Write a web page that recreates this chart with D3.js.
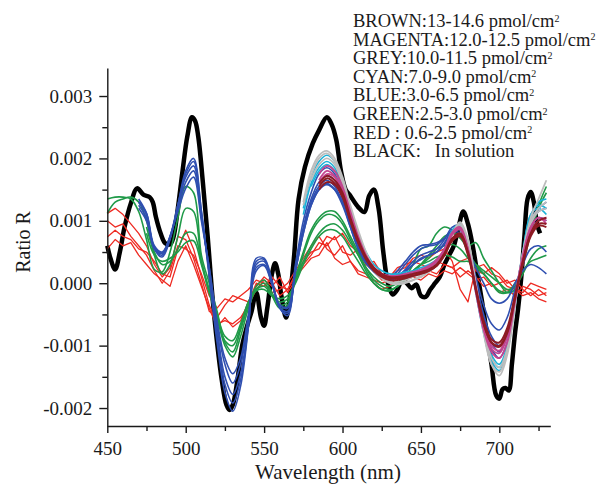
<!DOCTYPE html>
<html>
<head>
<meta charset="utf-8">
<script src="https://cdn.jsdelivr.net/npm/d3@7"></script>
<style>
  body { margin: 0; background: #fff; }
  svg text { font-family: "Liberation Serif", "Times New Roman", serif; fill: #1a1a1a; white-space: pre; }
</style>
</head>
<body>
<div id="chart"></div>
<script>
// ratio values are stored in units of 1e-3

// common wavelength grid (nm); every coloured series ends at 730
const wave = [
  450, 455, 460, 465, 470, 475, 480, 485, 490, 495,
  500, 505, 510, 515, 520, 525, 530, 535, 540, 545,
  550, 555, 560, 565, 570, 575, 580, 585, 590, 595,
  600, 605, 610, 615, 620, 625, 630, 635, 640, 645,
  650, 655, 660, 665, 670, 675, 680, 685, 690, 695,
  700, 705, 710, 715, 720, 725, 730
];

// black: in solution (own, finer grid)
const blackWave = [
  450, 452, 455, 458, 461, 465, 469, 473, 477, 479,
  481, 484, 487, 490, 492, 495, 498, 501, 504, 506,
  508, 511, 514, 517, 520, 523, 526, 528, 530, 533,
  536, 539, 542, 545, 548, 550, 552, 555, 557, 559,
  561, 564, 566, 569, 572, 576, 581, 585, 590, 593,
  596, 599, 602, 605, 610, 614, 617, 620, 623, 626,
  629, 632, 635, 638, 641, 644, 647, 650, 653, 656,
  659, 662, 665, 668, 671, 674, 677, 680, 683, 686,
  689, 692, 695, 698, 700, 702, 704, 706, 708, 710,
  712, 714, 716, 718, 720, 722, 724, 726
];
const blackR = [
  0.6, 0.4, 0.22, 0.5, 0.9, 1.28, 1.52, 1.42, 1.38, 1.3,
  1.06, 0.8, 0.64, 0.62, 0.72, 1.2, 1.8, 2.35, 2.66, 2.6,
  2.35, 1.6, 0.75, -0.2, -0.95, -1.55, -1.95, -2.03, -1.95, -1.55,
  -1.0, -0.7, -0.45, -0.15, -0.55, -0.68, -0.4, 0.15, 0.32, 0.15,
  -0.2, -0.55, -0.3, 0.4, 1.35, 1.86, 2.24, 2.45, 2.66, 2.55,
  2.3, 1.8, 1.5, 1.4, 1.22, 1.14, 1.4, 1.5, 1.2, 0.5,
  0.0, -0.18, -0.1, 0.05, 0.0, -0.08, -0.02, -0.2, -0.22, -0.1,
  0.0, 0.1, 0.3, 0.45, 0.6, 0.9, 1.15, 0.95, 0.6, 0.15,
  -0.3, -0.8, -1.3, -1.8, -1.85, -1.7, -1.68, -1.72, -1.3, -0.8,
  -0.4, 0.1, 0.75, 1.35, 1.46, 1.3, 0.95, 0.8
];

// red: 0.6-2.5 pmol/cm2 (450-730)
const red1 = [
  1.12, 1.2, 1.1, 0.95, 0.8, 0.6, 0.3, 0.1, 0.25, 0.75,
  0.7, 0.4, 0.0, -0.45, -0.55, -0.35, -0.2, -0.25, -0.3, 0.0,
  -0.05, 0.1, -0.05, -0.1, 0.15, 0.35, 0.5, 0.55, 0.75, 0.7,
  0.8, 0.6, 0.5, 0.3, 0.35, 0.15, 0.05, 0.2, 0.25, 0.4,
  0.45, 0.4, 0.5, 0.55, 0.35, -0.1, -0.3, 0.25, 0.3, 0.15,
  0.1, -0.05, -0.1, -0.15, 0.0, -0.05, -0.1
];
const red2 = [
  0.74, 0.85, 0.75, 0.7, 0.55, 0.5, 0.35, 0.15, 0.1, 0.55,
  0.85, 0.55, 0.1, -0.35, -0.65, -0.6, -0.65, -0.55, -0.35, -0.1,
  0.05, -0.05, 0.1, -0.15, 0.05, 0.3, 0.45, 0.65, 0.6, 0.75,
  0.5, 0.45, 0.55, 0.3, 0.2, 0.05, 0.1, 0.25, 0.3, 0.35,
  0.3, 0.25, 0.35, 0.3, 0.25, 0.35, 0.4, 0.2, 0.15, 0.25,
  0.15, 0.0, 0.05, -0.1, -0.2, -0.1, -0.2
];
const red3 = [
  1.0, 0.9, 0.95, 0.75, 0.6, 0.45, 0.2, 0.0, 0.2, 0.6,
  0.55, 0.45, 0.15, -0.2, -0.4, -0.25, -0.3, -0.2, -0.1, 0.05,
  0.0, -0.15, -0.1, 0.0, 0.2, 0.4, 0.6, 0.75, 0.55, 0.45,
  0.6, 0.35, 0.2, 0.15, 0.0, -0.1, -0.05, 0.1, 0.15, 0.2,
  0.1, 0.2, 0.15, 0.3, 0.25, 0.1, 0.2, 0.1, -0.05, 0.0,
  -0.15, -0.1, -0.2, -0.05, -0.1, -0.2, -0.15
];
const red4 = [
  0.55, 0.7, 0.6, 0.65, 0.45, 0.3, 0.15, 0.05, -0.05, 0.35,
  0.6, 0.3, -0.05, -0.4, -0.7, -0.55, -0.7, -0.6, -0.3, -0.05,
  0.1, 0.0, -0.2, -0.1, 0.1, 0.25, 0.4, 0.45, 0.65, 0.4,
  0.3, 0.35, 0.15, 0.1, 0.05, 0.0, 0.05, 0.1, 0.05, 0.1,
  0.05, 0.15, 0.1, 0.2, 0.15, 0.25, 0.15, 0.05, 0.1, -0.05,
  0.0, 0.05, -0.1, -0.2, -0.15, -0.25, -0.3
];

// green: 2.5-3.0 pmol/cm2
const green1 = [
  1.35, 1.38, 1.38, 1.35, 1.15, 0.7, 0.22, 0.18, 0.5, 1.05,
  1.55, 1.45, 0.45, 0.0, -0.45, -0.95, -1.1, -0.75, -0.35, -0.05,
  0.05, -0.15, -0.35, -0.3, 0.1, 0.5, 0.85, 1.05, 1.15, 1.15,
  1.0, 0.75, 0.5, 0.25, 0.05, -0.05, -0.1, -0.05, 0.1, 0.3,
  0.55, 0.6, 0.8, 0.9, 0.85, 0.72, 0.6, 0.65, 0.4, 0.2,
  0.0, -0.15, -0.1, 0.4, 0.85, 1.25, 1.55
];
const green2 = [
  1.12, 1.3, 1.35, 1.38, 1.3, 1.0, 0.45, 0.15, 0.3, 0.75,
  1.2, 1.15, 0.35, -0.1, -0.55, -1.0, -1.18, -0.85, -0.4, -0.1,
  0.0, -0.2, -0.4, -0.35, 0.05, 0.45, 0.8, 1.0, 1.1, 1.08,
  0.95, 0.7, 0.45, 0.2, 0.0, -0.1, -0.12, -0.05, 0.05, 0.15,
  0.3, 0.45, 0.6, 0.75, 0.8, 0.75, 0.5, 0.3, 0.15, 0.0,
  -0.12, -0.15, -0.05, 0.3, 0.8, 1.2, 1.45
];
const green3 = [ // from 475
  0.9, 0.5, 0.3, 0.35, 0.55,
  0.8, 0.8, 0.35, -0.15, -0.55, -0.92, -1.0, -0.7, -0.3, -0.1,
  -0.05, -0.2, -0.3, -0.25, 0.05, 0.35, 0.6, 0.8, 0.92, 0.95,
  0.85, 0.65, 0.45, 0.25, 0.1, 0.0, -0.05, 0.0, 0.1, 0.2,
  0.3, 0.35, 0.42, 0.45, 0.42, 0.35, 0.35, 0.3, 0.2, 0.1,
  0.0, -0.1, -0.05, 0.15, 0.4, 0.55, 0.6
];
const green4 = [ // from 475
  0.8, 0.45, 0.35, 0.4, 0.5,
  0.65, 0.68, 0.3, -0.15, -0.5, -0.85, -0.92, -0.65, -0.3, -0.12,
  -0.1, -0.2, -0.25, -0.2, 0.0, 0.3, 0.55, 0.75, 0.85, 0.85,
  0.75, 0.55, 0.35, 0.15, 0.0, -0.1, -0.12, -0.05, 0.05, 0.2,
  0.3, 0.4, 0.55, 0.6, 0.62, 0.55, 0.4, 0.25, 0.15, 0.0,
  -0.15, -0.15, 0.0, 0.2, 0.35, 0.4, 0.45
];

// blue: 3.0-6.5 pmol/cm2 (from 470)
const blue1 = [
  1.35, 1.12, 0.55, 0.42, 0.7, 1.25,
  1.8, 2.0, 1.15, 0.1, -0.95, -1.75, -2.05, -1.65, -0.7, 0.4,
  0.4, 0.05, -0.4, -0.52, 0.3, 1.0, 1.45, 1.75, 1.85, 1.75,
  1.4, 1.0, 0.65, 0.4, 0.22, 0.12, 0.08, 0.12, 0.18, 0.3,
  0.38, 0.45, 0.5, 0.65, 0.85, 0.9, 0.5, -0.1, -0.65, -1.05,
  -1.2, -0.95, -0.3, 0.4, 0.95, 1.15, 1.2
];
const blue2 = [
  1.3, 1.1, 0.55, 0.45, 0.72, 1.25,
  1.75, 1.95, 1.15, 0.15, -0.85, -1.62, -1.92, -1.55, -0.68, 0.35,
  0.38, 0.02, -0.4, -0.48, 0.25, 0.9, 1.35, 1.62, 1.72, 1.65,
  1.35, 0.95, 0.6, 0.35, 0.2, 0.1, 0.05, 0.1, 0.22, 0.35,
  0.45, 0.5, 0.55, 0.7, 0.9, 0.92, 0.55, 0.0, -0.5, -0.85,
  -1.0, -0.8, -0.2, 0.45, 0.9, 1.05, 1.0
];
const blue3 = [
  1.25, 1.05, 0.58, 0.48, 0.75, 1.25,
  1.7, 1.88, 1.1, 0.2, -0.75, -1.5, -1.78, -1.45, -0.65, 0.3,
  0.35, 0.0, -0.38, -0.45, 0.2, 0.85, 1.3, 1.55, 1.65, 1.55,
  1.3, 0.9, 0.55, 0.32, 0.18, 0.08, 0.05, 0.15, 0.3, 0.45,
  0.55, 0.6, 0.62, 0.72, 0.85, 0.85, 0.55, 0.1, -0.35, -0.65,
  -0.75, -0.55, -0.1, 0.3, 0.55, 0.6, 0.5
];
const blue4 = [
  1.3, 1.12, 0.6, 0.5, 0.75, 1.2,
  1.62, 1.8, 1.05, 0.25, -0.65, -1.3, -1.6, -1.3, -0.55, 0.25,
  0.3, 0.0, -0.35, -0.4, 0.2, 0.8, 1.25, 1.5, 1.6, 1.5,
  1.25, 0.9, 0.55, 0.32, 0.2, 0.12, 0.1, 0.2, 0.35, 0.5,
  0.6, 0.62, 0.65, 0.72, 0.82, 0.8, 0.55, 0.25, 0.0, -0.25,
  -0.32, -0.25, 0.0, 0.2, 0.3, 0.25, 0.15
];
const blue5 = [
  1.2, 1.0, 0.55, 0.48, 0.75, 1.15,
  1.52, 1.7, 1.0, 0.25, -0.6, -1.2, -1.45, -1.2, -0.5, 0.2,
  0.28, -0.02, -0.35, -0.38, 0.2, 0.8, 1.25, 1.5, 1.58, 1.5,
  1.3, 0.95, 0.6, 0.35, 0.22, 0.12, 0.1, 0.12, 0.2, 0.3,
  0.4, 0.45, 0.5, 0.62, 0.85, 0.92, 0.6, 0.05, -0.55, -0.95,
  -1.1, -0.85, -0.25, 0.45, 1.0, 1.2, 1.3
];

// cyan: 7.0-9.0 pmol/cm2
const cyan1 = [ // from 575
  1.2, 1.7, 1.95, 2.05, 1.95,
  1.65, 1.2, 0.8, 0.5, 0.3, 0.2, 0.15, 0.15, 0.18, 0.2,
  0.25, 0.3, 0.38, 0.55, 0.85, 0.95, 0.6, -0.1, -0.75, -1.2,
  -1.35, -1.05, -0.3, 0.5, 1.1, 1.25, 1.2
];
const cyan2 = [ // from 575
  1.1, 1.6, 1.85, 1.95, 1.85,
  1.55, 1.15, 0.75, 0.45, 0.25, 0.15, 0.1, 0.12, 0.15, 0.18,
  0.22, 0.28, 0.35, 0.52, 0.82, 0.92, 0.55, -0.15, -0.8, -1.25,
  -1.4, -1.1, -0.35, 0.45, 1.05, 1.3, 1.35
];
const cyan3 = [ // from 580
  1.55, 1.8, 1.9, 1.8,
  1.5, 1.1, 0.7, 0.4, 0.22, 0.12, 0.08, 0.1, 0.12, 0.15,
  0.2, 0.25, 0.32, 0.5, 0.8, 0.9, 0.55, -0.1, -0.7, -1.15,
  -1.3, -1.0, -0.25, 0.5, 1.1, 1.2, 1.1
];

// grey: 10.0-11.5 pmol/cm2
const grey1 = [ // from 575
  1.3, 1.8, 2.05, 2.12, 2.0,
  1.7, 1.25, 0.85, 0.5, 0.25, 0.1, 0.02, 0.0, 0.02, 0.05,
  0.12, 0.2, 0.3, 0.5, 0.8, 0.98, 0.7, 0.0, -0.75, -1.3,
  -1.48, -1.15, -0.35, 0.45, 1.05, 1.35, 1.65
];
const grey2 = [ // from 575
  1.25, 1.72, 2.0, 2.08, 1.95,
  1.65, 1.2, 0.8, 0.45, 0.22, 0.08, 0.0, -0.02, 0.0, 0.05,
  0.1, 0.18, 0.28, 0.48, 0.8, 0.95, 0.65, -0.05, -0.8, -1.3,
  -1.42, -1.1, -0.3, 0.5, 1.0, 1.2, 1.3
];
const grey3 = [ // from 580
  1.65, 1.9, 2.0, 1.9,
  1.6, 1.15, 0.75, 0.42, 0.2, 0.08, 0.02, 0.02, 0.05, 0.1,
  0.15, 0.22, 0.3, 0.5, 0.78, 0.92, 0.6, -0.05, -0.7, -1.2,
  -1.35, -1.05, -0.3, 0.4, 0.95, 1.15, 1.2
];

// magenta: 12.0-12.5 pmol/cm2 (from 585)
const magenta1 = [
  1.75, 1.88, 1.8,
  1.55, 1.15, 0.75, 0.45, 0.25, 0.15, 0.1, 0.1, 0.12, 0.15,
  0.2, 0.25, 0.35, 0.55, 0.82, 0.9, 0.55, -0.15, -0.75, -1.1,
  -1.2, -0.95, -0.3, 0.4, 0.9, 1.05, 1.0
];
const magenta2 = [
  1.65, 1.8, 1.72,
  1.5, 1.1, 0.72, 0.42, 0.25, 0.15, 0.12, 0.12, 0.15, 0.18,
  0.22, 0.28, 0.38, 0.55, 0.8, 0.88, 0.52, -0.1, -0.7, -1.05,
  -1.12, -0.85, -0.25, 0.4, 0.85, 1.0, 1.05
];
const magenta3 = [
  1.6, 1.75, 1.7,
  1.45, 1.05, 0.7, 0.4, 0.22, 0.12, 0.1, 0.1, 0.12, 0.15,
  0.2, 0.25, 0.35, 0.52, 0.78, 0.86, 0.55, -0.05, -0.65, -1.0,
  -1.08, -0.8, -0.2, 0.45, 0.9, 1.05, 0.95
];

// brown: 13-14.6 pmol/cm2 (from 585)
const brown1 = [
  1.6, 1.72, 1.65,
  1.45, 1.05, 0.7, 0.42, 0.25, 0.15, 0.1, 0.1, 0.12, 0.15,
  0.18, 0.22, 0.3, 0.48, 0.72, 0.8, 0.5, -0.1, -0.65, -0.95,
  -1.02, -0.8, -0.25, 0.35, 0.8, 1.0, 1.05
];
const brown2 = [
  1.55, 1.68, 1.6,
  1.4, 1.0, 0.65, 0.4, 0.22, 0.12, 0.08, 0.08, 0.1, 0.12,
  0.16, 0.2, 0.28, 0.45, 0.7, 0.78, 0.48, -0.08, -0.6, -0.9,
  -0.95, -0.72, -0.2, 0.35, 0.78, 0.95, 0.95
];
const brown3 = [
  1.5, 1.62, 1.58,
  1.38, 1.0, 0.65, 0.38, 0.2, 0.1, 0.05, 0.05, 0.08, 0.12,
  0.15, 0.2, 0.28, 0.45, 0.68, 0.75, 0.45, -0.1, -0.65, -0.95,
  -1.0, -0.78, -0.22, 0.3, 0.75, 0.92, 0.9
];

// axis ticks
const xTicks = [450, 500, 550, 600, 650, 700];
const xMinor = [475, 525, 575, 625, 675, 725];
const yTicks = [-2, -1, 0, 1, 2, 3];
const yTickLabels = ["-0.002", "-0.001", "0.000", "0.001", "0.002", "0.003"];
const yMinor = [-1.5, -0.5, 0.5, 1.5, 2.5];

// legend text
const legendLines = [
  "BROWN:13-14.6 pmol/cm",
  "MAGENTA:12.0-12.5 pmol/cm",
  "GREY:10.0-11.5 pmol/cm",
  "CYAN:7.0-9.0 pmol/cm",
  "BLUE:3.0-6.5 pmol/cm",
  "GREEN:2.5-3.0 pmol/cm",
  "RED : 0.6-2.5 pmol/cm",
  "BLACK:\u00a0\u00a0 In solution"
];

// drawing order: bottom to top
const groups = [
  { color: "#ee2a22", width: 1.3, curve: d3.curveLinear, series: [red1, red2, red3, red4] },
  { color: "#1f9a48", width: 1.6, curve: d3.curveCatmullRom, series: [green1, green2, green3, green4] },
  { color: "#2f4fb0", width: 1.6, curve: d3.curveCatmullRom, series: [blue1, blue2, blue3, blue4, blue5] },
  { color: "#1ab2d8", width: 1.6, curve: d3.curveCatmullRom, series: [cyan1, cyan2, cyan3] },
  { color: "#bdbdbd", width: 1.8, curve: d3.curveCatmullRom, series: [grey1, grey2, grey3] },
  { color: "#c4458f", width: 1.8, curve: d3.curveCatmullRom, series: [magenta1, magenta2, magenta3] },
  { color: "#8e1b24", width: 2.0, curve: d3.curveCatmullRom, series: [brown1, brown2, brown3] }
];

const W = 602, H = 487;
const svg = d3.select("#chart").append("svg")
  .attr("width", W)
  .attr("height", H);

const x = d3.scaleLinear().domain([450, 732.5]).range([107.3, 550.3]);
const y = d3.scaleLinear().domain([-2.288, 3.449]).range([426, 68]);

// black first, coloured ones drawn over it
const blackLine = d3.line()
  .x(d => x(d[0]))
  .y(d => y(d[1]))
  .curve(d3.curveCatmullRom);

svg.append("path")
  .datum(blackWave.map((w, i) => [w, blackR[i]]))
  .attr("d", blackLine)
  .attr("fill", "none")
  .attr("stroke", "#000")
  .attr("stroke-width", 4.5)
  .attr("stroke-linejoin", "round");

groups.forEach(g => {
  const line = d3.line()
    .x(d => x(d[0]))
    .y(d => y(d[1]))
    .curve(g.curve);
  g.series.forEach(vals => {
    // series are aligned to the end of the wavelength grid
    const xs = wave.slice(wave.length - vals.length);
    svg.append("path")
      .datum(vals.map((v, i) => [xs[i], v]))
      .attr("d", line)
      .attr("fill", "none")
      .attr("stroke", g.color)
      .attr("stroke-width", g.width)
      .attr("stroke-linejoin", "round");
  });
});

// axes
svg.append("g")
  .attr("transform", "translate(0,426)")
  .call(d3.axisBottom(x).tickValues(xTicks).tickSize(7).tickSizeOuter(0).tickPadding(9));
svg.append("g")
  .attr("transform", "translate(0,426)")
  .call(d3.axisBottom(x).tickValues(xMinor).tickSize(5).tickFormat(""))
  .select(".domain").remove();

svg.append("g")
  .attr("transform", "translate(107.3,0)")
  .call(d3.axisLeft(y).tickValues(yTicks).tickSize(8).tickSizeOuter(0).tickPadding(7)
    .tickFormat((d, i) => yTickLabels[i]));
svg.append("g")
  .attr("transform", "translate(107.3,0)")
  .call(d3.axisLeft(y).tickValues(yMinor).tickSize(5).tickFormat(""))
  .select(".domain").remove();

svg.selectAll(".domain, .tick line")
  .attr("stroke", "#1a1a1a")
  .attr("stroke-width", 1.4);
svg.selectAll(".tick text")
  .attr("font-size", 19)
  .attr("font-family", null)
  .attr("fill", "#1a1a1a");

// axis titles
svg.append("text")
  .attr("x", 328)
  .attr("y", 479)
  .attr("text-anchor", "middle")
  .attr("font-size", 21)
  .text("Wavelength (nm)");

svg.append("text")
  .attr("transform", "translate(30,242) rotate(-90)")
  .attr("text-anchor", "middle")
  .attr("font-size", 20)
  .text("Ratio R");

// legend (plain text block)
const legend = svg.append("g").attr("font-size", 18.5);
legendLines.forEach((t, i) => {
  const txt = legend.append("text")
    .attr("x", 353)
    .attr("y", 27 + i * 18.6);
  txt.append("tspan").text(t);
  if (t.indexOf("pmol") >= 0) {
    txt.append("tspan")
      .attr("font-size", 10)
      .attr("dy", -5.5)
      .text("2");
  }
});
</script>
</body>
</html>
